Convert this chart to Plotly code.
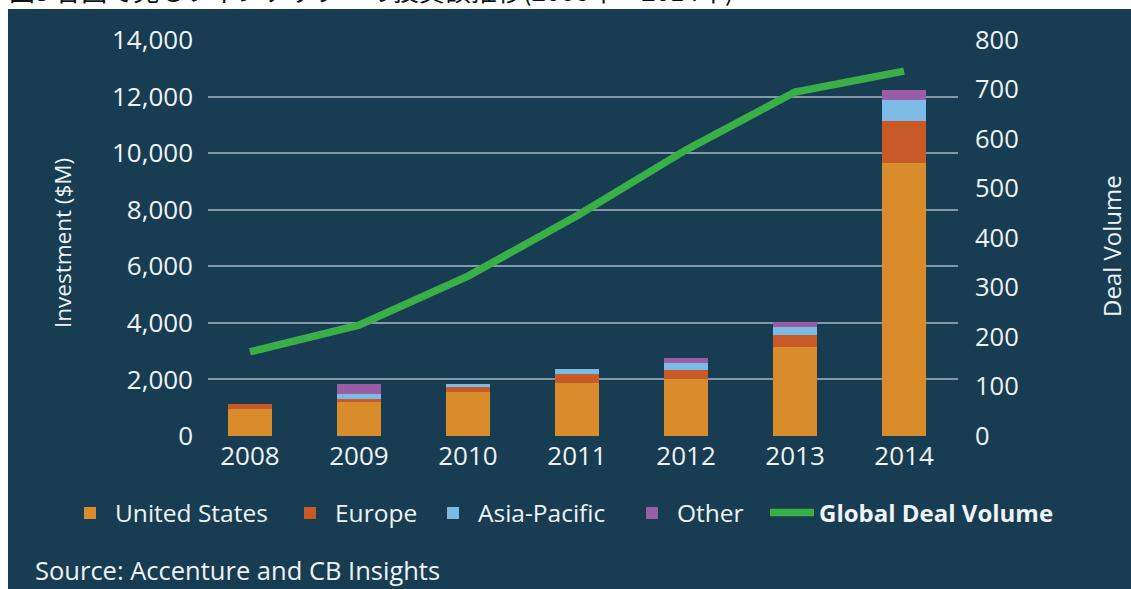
import plotly.graph_objects as go

W, H = 1131, 589

years = ["2008", "2009", "2010", "2011", "2012", "2013", "2014"]
us = [940, 1210, 1540, 1860, 2000, 3150, 9650]
europe = [200, 85, 180, 330, 320, 435, 1480]
asia = [0, 200, 120, 180, 270, 270, 765]
other = [0, 330, 0, 0, 180, 180, 350]
deal_volume = [170, 224, 323, 445, 578, 695, 737]

left_ticks = [0, 2000, 4000, 6000, 8000, 10000, 12000, 14000]
right_ticks = [0, 100, 200, 300, 400, 500, 600, 700, 800]

BG = "#183d52"
TXT = "#eef3f6"
GRID = "#8299a8"
FONT = "Open Sans"


def px(x):
    return x / W


def py(y):
    return 1 - y / H


fig = go.Figure()

series = [
    ("United States", us, "#d98c2c", "legend", 90),
    ("Europe", europe, "#c85a28", "legend2", 310),
    ("Asia-Pacific", asia, "#7bbbe6", "legend3", 453),
    ("Other", other, "#9b5ca6", "legend4", 652),
]
for name, vals, col, lg, _ in series:
    fig.add_trace(go.Bar(
        x=years, y=vals, name=name, marker=dict(color=col, line=dict(width=0)),
        width=0.4, legend=lg, yaxis="y",
    ))

fig.add_trace(go.Scatter(
    x=years, y=deal_volume, name="<b>Global Deal Volume</b>", mode="lines",
    line=dict(color="#3aaf48", width=7.5), yaxis="y2", legend="legend5",
))

legend_common = dict(
    orientation="h", yanchor="middle", xanchor="left", y=py(513),
    bgcolor="rgba(0,0,0,0)", borderwidth=0,
)
layout_legends = {}
for i, (name, vals, col, lg, cx) in enumerate(series):
    layout_legends[lg] = dict(legend_common, x=px(cx - 25), itemwidth=40,
                              font=dict(family=FONT, size=24.5, color=TXT))
layout_legends["legend5"] = dict(legend_common, x=px(765), itemwidth=44,
                                 font=dict(family=FONT, size=24, color=TXT))

fig.update_layout(
    width=W, height=H, autosize=False,
    margin=dict(l=0, r=0, t=0, b=0),
    paper_bgcolor="white", plot_bgcolor=BG,
    barmode="stack", bargap=0.6,
    font=dict(family=FONT, color=TXT),
    showlegend=True,
    xaxis=dict(
        domain=[px(208), px(958)], type="category", range=[-0.385, 6.495],
        showgrid=False, zeroline=False, showline=False,
        tickfont=dict(family=FONT, size=26, color=TXT),
        ticks="", ticklabelstandoff=2, automargin=False,
    ),
    yaxis=dict(
        domain=[py(436), py(40)], range=[0, 14000], tickvals=left_ticks,
        tickformat=",", showgrid=True, gridcolor=GRID, gridwidth=2,
        zeroline=False, showline=False, ticks="", ticklabelstandoff=14,
        tickfont=dict(family=FONT, size=26, color=TXT), automargin=False,
    ),
    yaxis2=dict(
        range=[0, 800], tickvals=right_ticks, overlaying="y", side="right",
        showgrid=False, zeroline=False, showline=False, ticks="",
        ticklabelstandoff=16, anchor="x",
        tickfont=dict(family=FONT, size=25.5, color=TXT), automargin=False,
    ),
    shapes=[dict(
        type="rect", xref="paper", yref="paper", layer="below",
        x0=px(8), x1=1.01, y0=-0.01, y1=py(9),
        fillcolor=BG, line=dict(width=0),
    )],
    annotations=[
        dict(text="Investment ($M)", x=px(62), y=py(243), xref="paper", yref="paper",
             textangle=-90, showarrow=False, xanchor="center", yanchor="middle",
             font=dict(family=FONT, size=22.5, color=TXT)),
        dict(text="Deal Volume", x=px(1112), y=py(246), xref="paper", yref="paper",
             textangle=-90, showarrow=False, xanchor="center", yanchor="middle",
             font=dict(family=FONT, size=24, color=TXT)),
        dict(text="Source: Accenture and CB Insights", x=px(33), y=py(570),
             xref="paper", yref="paper", showarrow=False, xanchor="left",
             yanchor="middle", font=dict(family=FONT, size=25.5, color=TXT)),
        dict(text="図3 各国で見るフィンテックへの投資額推移(2008年～2014年)",
             x=px(8), y=py(9), xref="paper", yref="paper", showarrow=False,
             xanchor="left", yanchor="bottom", borderpad=0,
             font=dict(family="Noto Sans CJK JP", size=26, color="#111111")),
    ],
    **layout_legends,
)

fig.write_html("out.html")
